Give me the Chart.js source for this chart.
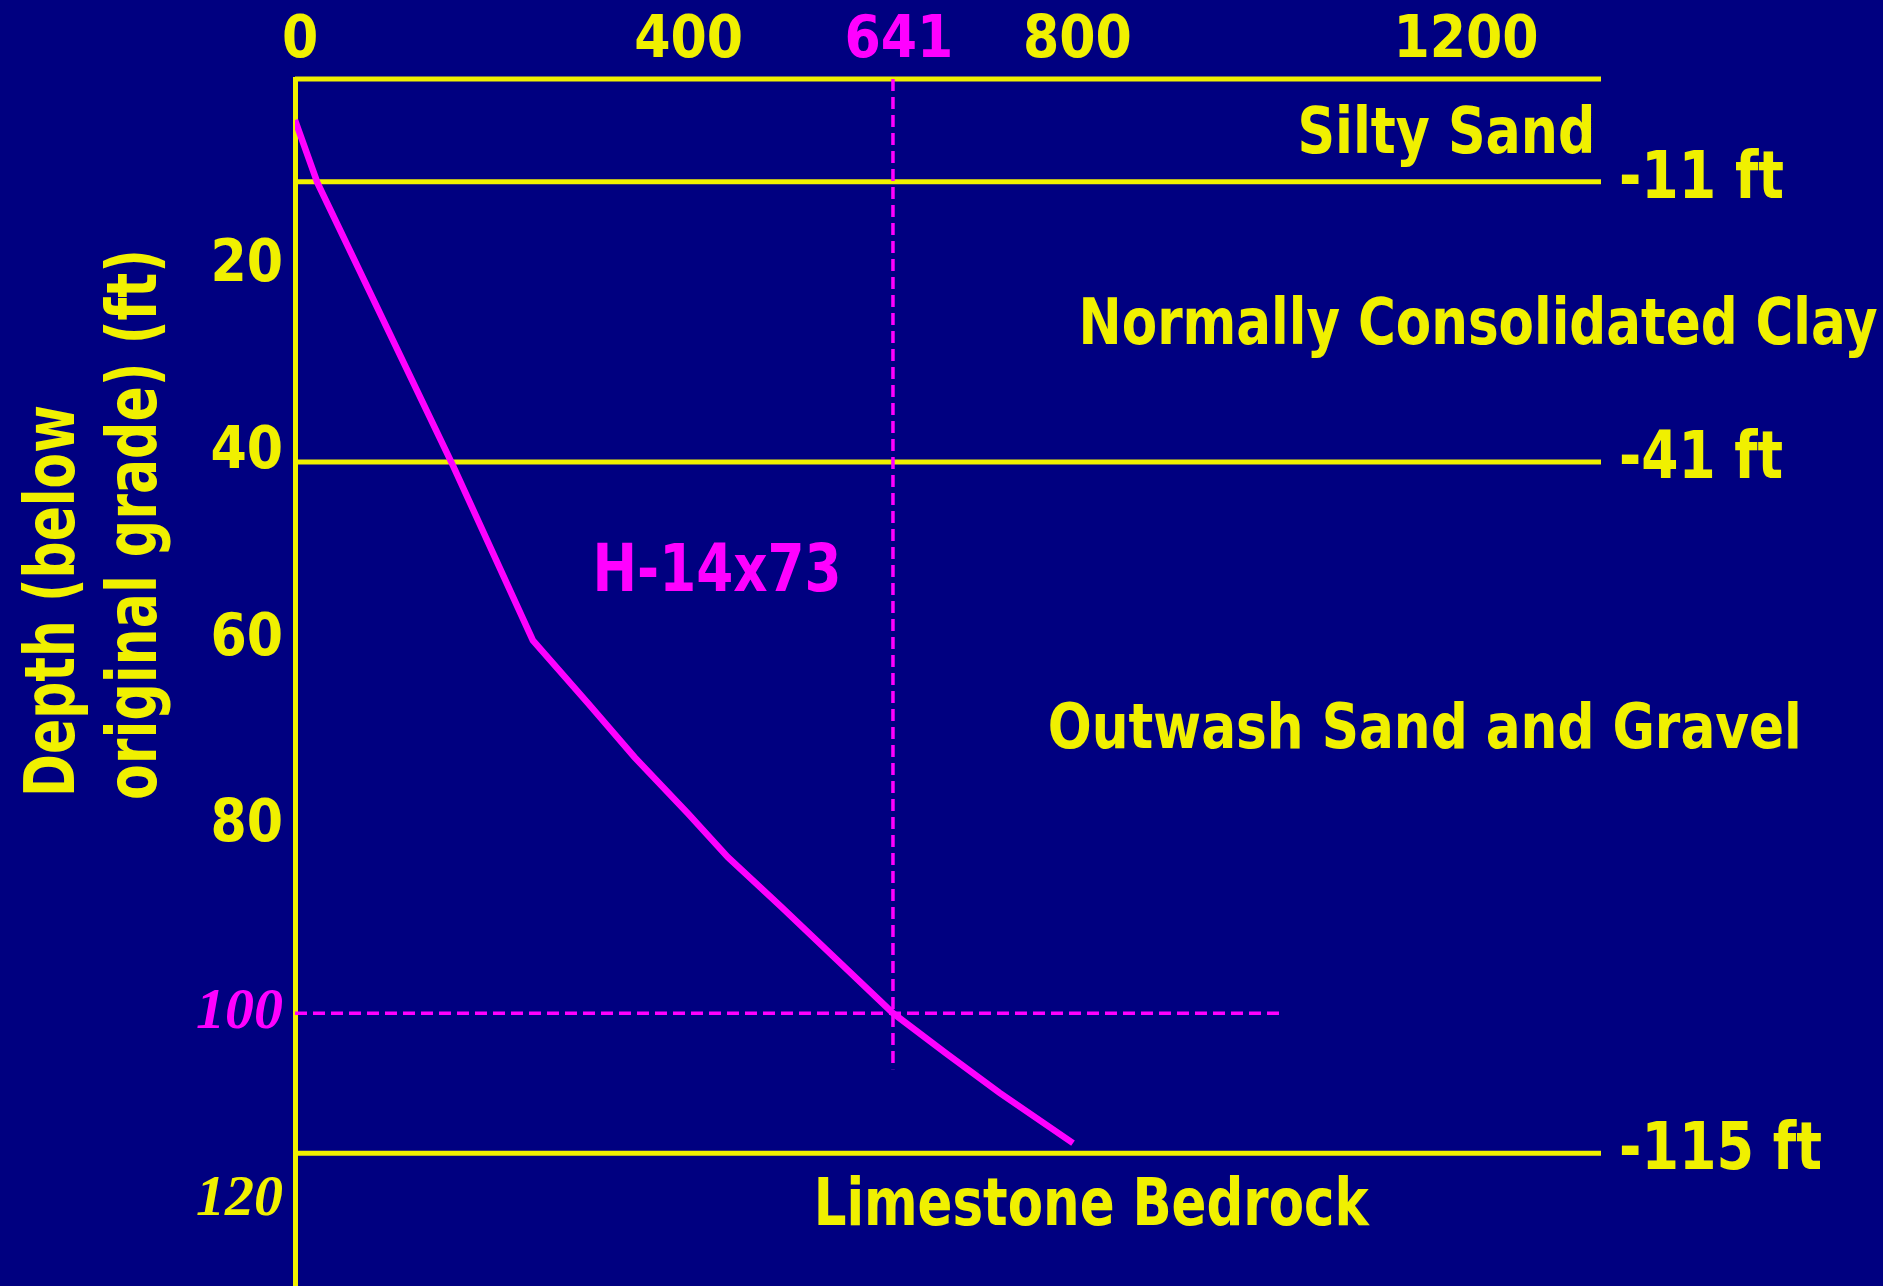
<!DOCTYPE html>
<html>
<head>
<meta charset="utf-8">
<script src="https://cdn.jsdelivr.net/npm/chart.js@4.4.0/dist/chart.umd.min.js"></script>
<style>
  html, body { margin: 0; padding: 0; background: #000080; }
  #wrap { width: 1883px; height: 1286px; position: relative; }
</style>
</head>
<body>
<div id="wrap"><canvas id="pileChart"></canvas></div>
<script>
// values
const depthTicks = [20, 40, 60, 80, 100, 120];
const loadTicks = [0, 400, 800, 1200];
const layerDepths = [0, 11, 41, 115];
const layerDepthLabels = ['', '-11 ft', '-41 ft', '-115 ft'];
const layerNames = ['Silty Sand', 'Normally Consolidated Clay', 'Outwash Sand and Gravel', 'Limestone Bedrock'];
const pileName = 'H-14x73';
const pileDepth = [4.4, 11.1, 41.3, 60.1, 66.8, 72.6, 78.6, 83.3, 88.6, 94.3, 100, 104.3, 108.5, 113.9];
const pileLoad = [0, 24, 169, 255, 314, 364, 421, 464, 521, 581, 641, 698, 755, 834];
const refLoad = 641;
const refDepth = 100;
const refLoadLineTo = 106;   // depth where the vertical dashed line stops
const refDepthLineTo = 1060; // load where the horizontal dashed line stops
const depthTitle = ['Depth (below', 'original grade) (ft)'];

const loadMax = 1400;
const depthMax = 129.2;

const YELLOW = '#f0f000';
const MAGENTA = '#ff00ff';
const FONT = '"DejaVu Sans Condensed", "DejaVu Sans", sans-serif';
const SERIF = '"Liberation Serif", "DejaVu Serif", serif';

// where the texts sit (chart units) and how wide they are on the slide (px)
const nameSpots = [
    { x: 1394, y: 7.9, align: 'right', size: 64, w: 298 },
    { x: 840, y: 28.4, align: 'left', size: 64, w: 799 },
    { x: 807, y: 71.6, align: 'left', size: 62, w: 754 },
    { x: 556, y: 122.7, align: 'left', size: 66, w: 555 }
];
const depthLabelW = [0, 165, 164, 203];
const pileSpot = { x: 319, y: 54.8, size: 66, w: 249 };
const titleSpot = [{ x: 74, y: 797, w: 392 }, { x: 156, y: 800, w: 551 }];

function squeezeText(ctx, text, x, y, size, width, align, color) {
    ctx.save();
    ctx.font = 'bold ' + size + 'px ' + FONT;
    const sx = width ? width / ctx.measureText(text).width : 1;
    ctx.translate(x, y);
    ctx.scale(sx, 1);
    ctx.textAlign = align;
    ctx.textBaseline = 'alphabetic';
    ctx.fillStyle = color;
    ctx.fillText(text, 0, 0);
    ctx.restore();
}

const slideLabels = {
    id: 'slideLabels',
    afterDraw(chart) {
        const ctx = chart.ctx;
        const xs = chart.scales.x;
        const ys = chart.scales.y;
        const area = chart.chartArea;

        // soil layer names
        layerNames.forEach((name, i) => {
            const s = nameSpots[i];
            squeezeText(ctx, name, xs.getPixelForValue(s.x), ys.getPixelForValue(s.y), s.size, s.w, s.align, YELLOW);
        });

        // boundary depths at the end of the lines
        layerDepthLabels.forEach((lbl, i) => {
            if (!lbl) return;
            squeezeText(ctx, lbl, area.right + 18, ys.getPixelForValue(layerDepths[i]) + 16, 66, depthLabelW[i], 'left', YELLOW);
        });

        // pile section
        squeezeText(ctx, pileName, xs.getPixelForValue(pileSpot.x), ys.getPixelForValue(pileSpot.y), pileSpot.size, pileSpot.w, 'left', MAGENTA);

        // 641 over the dashed line, same row as the top ticks
        ctx.save();
        ctx.font = 'bold 58px ' + FONT;
        ctx.fillStyle = MAGENTA;
        ctx.textAlign = 'center';
        ctx.textBaseline = 'middle';
        ctx.fillText(String(refLoad), xs.getPixelForValue(refLoad) + 6, area.top - 8 - 29);
        ctx.restore();

        // y axis title, two lines
        depthTitle.forEach((line, i) => {
            const t = titleSpot[i];
            ctx.save();
            ctx.translate(t.x, t.y);
            ctx.rotate(-Math.PI / 2);
            squeezeText(ctx, line, 0, 0, 70, t.w, 'left', YELLOW);
            ctx.restore();
        });
    }
};

function hLine(d, from, to) {
    return [{ x: from, y: d }, { x: to, y: d }];
}

const datasets = [{
    label: pileName,
    data: pileLoad.map((v, i) => ({ x: v, y: pileDepth[i] })),
    borderColor: MAGENTA,
    borderWidth: 6.5
}, {
    label: 'ref load',
    data: [{ x: refLoad, y: 0 }, { x: refLoad, y: refLoadLineTo }],
    borderColor: MAGENTA,
    borderWidth: 3.5,
    borderDash: [12, 6]
}, {
    label: 'ref depth',
    data: hLine(refDepth, 0, refDepthLineTo),
    borderColor: MAGENTA,
    borderWidth: 3.5,
    borderDash: [12, 6]
}];

layerDepths.forEach(d => {
    datasets.push({
        label: 'layer ' + d,
        data: hLine(d, 0, loadMax),
        borderColor: YELLOW,
        borderWidth: 5,
        clip: false
    });
});

datasets.forEach(ds => {
    ds.showLine = true;
    ds.pointRadius = 0;
    ds.fill = false;
    ds.tension = 0;
});

new Chart(document.getElementById('pileChart'), {
    type: 'scatter',
    data: { datasets: datasets },
    options: {
        responsive: true,
        maintainAspectRatio: false,
        animation: false,
        devicePixelRatio: 1,
        layout: { autoPadding: false, padding: { left: 0, top: 0, right: 282, bottom: 0 } },
        plugins: {
            legend: { display: false },
            tooltip: { enabled: false }
        },
        scales: {
            x: {
                type: 'linear',
                position: 'top',
                display: false,
                min: 0,
                max: loadMax
            },
            // the slide's top numbers are spaced a bit wider than the plot
            xTop: {
                type: 'linear',
                position: 'top',
                min: -5.2,
                max: 1338.9,
                afterBuildTicks: s => { s.ticks = loadTicks.map(v => ({ value: v })); },
                afterFit: s => {
                    s.height = 79;
                    s.paddingLeft = 0;
                    s.paddingRight = 0;
                },
                grid: { display: false, drawTicks: false },
                border: { display: false },
                ticks: {
                    color: YELLOW,
                    padding: 8,
                    autoSkip: false,
                    maxRotation: 0,
                    callback: v => String(v),
                    font: { family: FONT, size: 58, weight: 'bold', lineHeight: 1 }
                }
            },
            y: {
                type: 'linear',
                reverse: true,
                min: 0,
                max: depthMax,
                afterBuildTicks: s => { s.ticks = depthTicks.map(v => ({ value: v })); },
                afterFit: s => {
                    s.width = 295;
                    // axis runs to the bottom edge, no room kept for half a label
                    s.paddingTop = 0;
                    s.paddingBottom = 0;
                },
                grid: { display: false, drawTicks: false },
                border: { color: YELLOW, width: 5 },
                ticks: {
                    padding: 12,
                    autoSkip: false,
                    callback: v => String(v),
                    color: c => (c.tick && c.tick.value === refDepth ? MAGENTA : YELLOW),
                    font: c => (c.tick && c.tick.value >= 100
                        ? { family: SERIF, size: 58, style: 'italic', weight: 'bold', lineHeight: 1 }
                        : { family: FONT, size: 58, weight: 'bold', lineHeight: 1 })
                }
            }
        }
    },
    plugins: [slideLabels]
});
</script>
</body>
</html>
